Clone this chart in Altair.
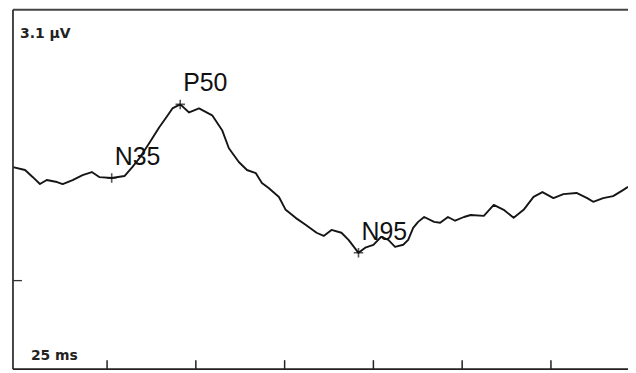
import altair as alt
import pandas as pd

# Waveform (time in ms, amplitude in µV)
time_ms = [-1.5, 1.9, 4.1, 6.1, 8.0, 10.9, 12.5, 15.3, 18.1, 20.7, 22.9, 26.3, 29.9,
           32.1, 34.1, 36.9, 39.7, 41.7, 43.4, 45.6, 48.1, 50.9, 54.6, 57.4, 59.3,
           62.1, 64.4, 66.9, 68.6, 70.5, 73.4, 75.3, 78.1, 80.9, 84.0, 86.0, 88.2,
           91.0, 93.0, 95.8, 97.7, 100.0, 102.2, 104.2, 106.1, 108.4, 109.8, 111.2,
           112.6, 114.3, 117.1, 118.8, 121.0, 123.0, 125.5, 127.4, 131.1, 133.9,
           136.7, 139.5, 142.3, 145.1, 147.6, 150.7, 153.5, 157.2, 160.2, 161.9,
           164.7, 167.5, 170.3, 171.7]
amp_uv = [3.96, 3.86, 3.61, 3.37, 3.51, 3.44, 3.37, 3.51, 3.68, 3.79, 3.61, 3.58, 3.65,
          3.96, 4.27, 4.80, 5.35, 5.70, 6.01, 6.15, 5.87, 6.01, 5.77, 5.25, 4.62,
          4.14, 3.86, 3.75, 3.41, 3.23, 2.92, 2.47, 2.19, 1.95, 1.67, 1.56, 1.77,
          1.67, 1.42, 0.97, 1.15, 1.25, 1.53, 1.42, 1.18, 1.25, 1.42, 1.84,
          2.05, 2.22, 2.05, 2.02, 2.22, 2.09, 2.22, 2.29, 2.26, 2.64,
          2.47, 2.19, 2.47, 2.92, 3.09, 2.88, 3.02, 3.06, 2.88, 2.75,
          2.88, 2.95, 3.16, 3.27]

# Peak markers
peak_names = ["N35", "P50", "N95"]
peak_time = [26.3, 45.6, 95.8]
peak_amp = [3.58, 6.15, 0.97]

# Scale ticks
x_ticks = [25, 50, 75, 100, 125, 150]
y_ticks = [0]
scale_labels = ["3.1 µV", "25 ms"]

W, H = 618, 361
xs = alt.Scale(domain=[-1.5, 171.7], nice=False, zero=False)
ys = alt.Scale(domain=[-3.09, 9.45], nice=False, zero=False)

wave = pd.DataFrame({"t": time_ms, "v": amp_uv})
peaks = pd.DataFrame({"name": peak_names, "t": peak_time, "v": peak_amp})
xt = pd.DataFrame({"t": x_ticks})
yt = pd.DataFrame({"v": y_ticks})

line = alt.Chart(wave).mark_line(color="#151515", strokeWidth=1.9, strokeJoin="round").encode(
    x=alt.X("t:Q", scale=xs, axis=None),
    y=alt.Y("v:Q", scale=ys, axis=None),
)

frame_src = pd.DataFrame({"k": [0]})
top = alt.Chart(frame_src).mark_rule(color="#444", strokeWidth=2).encode(
    x=alt.value(0), x2=alt.value(W), y=alt.value(0))
left = alt.Chart(frame_src).mark_rule(color="#333", strokeWidth=1.8).encode(
    x=alt.value(0), y=alt.value(0), y2=alt.value(H))
bottom = alt.Chart(frame_src).mark_rule(color="#222", strokeWidth=2).encode(
    x=alt.value(0), x2=alt.value(W), y=alt.value(H))

xtick = alt.Chart(xt).mark_rule(color="#222", strokeWidth=1.5).encode(
    x=alt.X("t:Q", scale=xs, axis=None), y=alt.value(H), y2=alt.value(H - 9))
ytick = alt.Chart(yt).mark_rule(color="#333", strokeWidth=1.3).encode(
    y=alt.Y("v:Q", scale=ys, axis=None), x=alt.value(0), x2=alt.value(9))

markers = alt.Chart(peaks).mark_point(
    shape="M-1,0L1,0M0,-1L0,1", size=90, filled=False, color="#111", strokeWidth=1.6
).encode(x=alt.X("t:Q", scale=xs, axis=None), y=alt.Y("v:Q", scale=ys, axis=None))

peak_text = alt.Chart(peaks).mark_text(
    align="left", baseline="alphabetic", dx=3, dy=-13, fontSize=25,
    font="Liberation Sans", color="#111"
).encode(x=alt.X("t:Q", scale=xs, axis=None), y=alt.Y("v:Q", scale=ys, axis=None),
         text="name:N")

lab_v = alt.Chart(pd.DataFrame({"s": [scale_labels[0]]})).mark_text(
    align="left", baseline="alphabetic", fontSize=14, fontWeight="bold",
    font="DejaVu Sans", color="#222"
).encode(x=alt.value(7), y=alt.value(28), text="s:N")
lab_t = alt.Chart(pd.DataFrame({"s": [scale_labels[1]]})).mark_text(
    align="left", baseline="alphabetic", fontSize=14, fontWeight="bold",
    font="DejaVu Sans", color="#222"
).encode(x=alt.value(18), y=alt.value(352), text="s:N")

chart = alt.layer(line, top, left, bottom, xtick, ytick, markers, peak_text, lab_v, lab_t).properties(
    width=W, height=H,
    autosize=alt.AutoSizeParams(type="none"),
    padding={"left": 5, "top": 1, "right": 0, "bottom": 0},
).configure_view(stroke=None)

chart.save("out.html", embed_options={"renderer": "svg", "actions": False})
